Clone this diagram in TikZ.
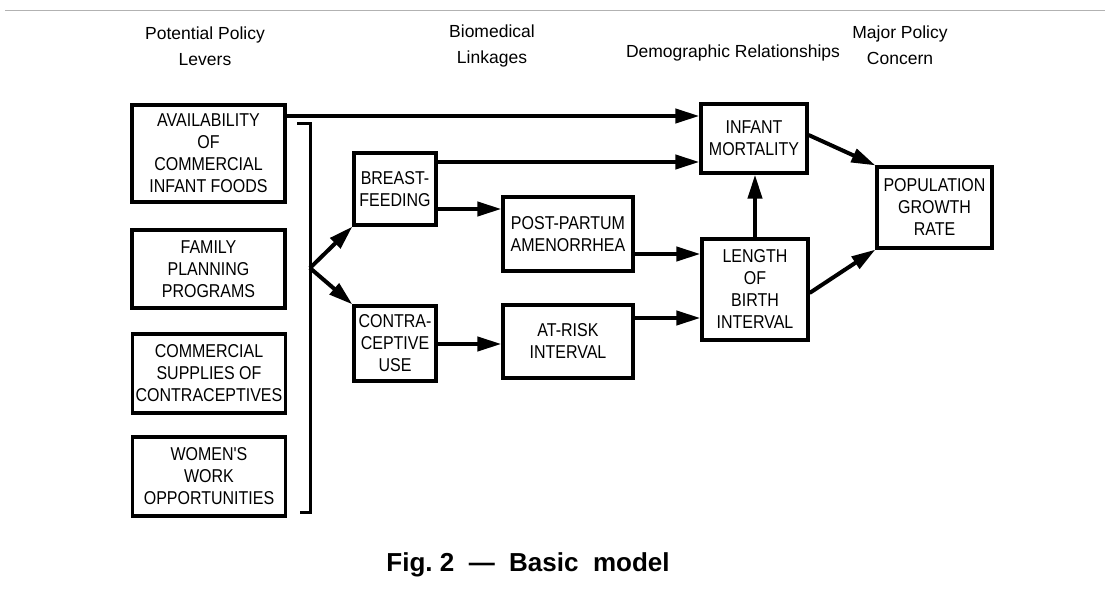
\documentclass[tikz,border=0pt]{standalone}
\usepackage{fontspec}
\setmainfont{Liberation Sans}
\newfontfamily\boxfont[FakeStretch=0.86]{Liberation Sans}
\newfontfamily\capfont{Liberation Sans}
\usetikzlibrary{arrows.meta}
\begin{document}
\begin{tikzpicture}[x=1pt,y=-1pt,
  box/.style={draw,line width=3.2pt,align=center,inner sep=0pt,
    font=\boxfont\fontsize{18.6}{22}\selectfont},
  head/.style={align=center,font=\capfont\fontsize{17.5}{26}\selectfont},
  arr/.style={line width=4pt,-{Triangle[length=24pt,width=14pt]}},
  brk/.style={line width=3pt}]
\useasboundingbox (0,0) rectangle (1112,596);
\draw[gray!60,line width=0.8pt] (5,10) -- (1105,10);
% headers
\node[head] (h1) at (205,46) {Potential Policy\\Levers};
\node[head] (h2) at (492,46) {Biomedical\\Linkages};
\node[head] (h3) at (733,53) {Demographic Relationships};
\node[head] (h4) at (900,45) {Major Policy\\Concern};
% boxes
\node[box,minimum width=153pt,minimum height=97pt] (avail) at (208.5,153.5) {AVAILABILITY\\OF\\COMMERCIAL\\INFANT FOODS};
\node[box,minimum width=153pt,minimum height=78pt] (family) at (208.5,269) {FAMILY\\PLANNING\\PROGRAMS};
\node[box,minimum width=153pt,minimum height=79pt] (supplies) at (209,373.5) {COMMERCIAL\\SUPPLIES OF\\CONTRACEPTIVES};
\node[box,minimum width=153pt,minimum height=79pt] (women) at (209,476.5) {WOMEN'S\\WORK\\OPPORTUNITIES};
\node[box,minimum width=82pt,minimum height=72pt] (breast) at (395,189) {BREAST-\\FEEDING};
\node[box,minimum width=82pt,minimum height=75pt] (contra) at (395,343.5) {CONTRA-\\CEPTIVE\\USE};
\node[box,minimum width=130pt,minimum height=74pt] (post) at (568,234) {POST-PARTUM\\AMENORRHEA};
\node[box,minimum width=130pt,minimum height=73pt] (risk) at (568,341.5) {AT-RISK\\INTERVAL};
\node[box,minimum width=106pt,minimum height=69pt] (infant) at (754,138.5) {INFANT\\MORTALITY};
\node[box,minimum width=106pt,minimum height=101pt] (length) at (755,289.5) {LENGTH\\OF\\BIRTH\\INTERVAL};
\node[box,minimum width=115pt,minimum height=81pt] (pop) at (934.5,207.5) {POPULATION\\GROWTH\\RATE};
% bracket
\coordinate (bt) at (310,124);
\coordinate (bb) at (310,512);
\coordinate (fork) at (310,268);
\draw[brk] ([xshift=-13pt]bt) -- (bt) -- (bb) -- ([xshift=-10pt]bb);
\draw[arr] (fork) -- (breast.south west);
\draw[arr] (fork) -- (contra.north west);
% arrows
\draw[arr] (avail.east |- 0,116) -- (infant.west |- 0,116);
\draw[arr] (breast.east |- 0,162) -- (infant.west |- 0,162);
\draw[arr] (breast.east |- 0,209) -- (post.west |- 0,209);
\draw[arr] (contra.east |- 0,344) -- (risk.west |- 0,344);
\draw[arr] (post.east |- 0,254) -- (length.west |- 0,254);
\draw[arr] (risk.east |- 0,318) -- (length.west |- 0,318);
\draw[arr] (length.north) -- (length.north |- infant.south);
\draw[arr] (infant.east |- 0,135) -- (pop.north west);
\draw[arr] (length.east |- 0,293) -- (pop.south west);
% caption
\node[font=\capfont\bfseries\fontsize{26}{30}\selectfont] (cap) at (528,565) {Fig.\ 2 \ —\ \ Basic\ \ model};
\end{tikzpicture}
\end{document}
